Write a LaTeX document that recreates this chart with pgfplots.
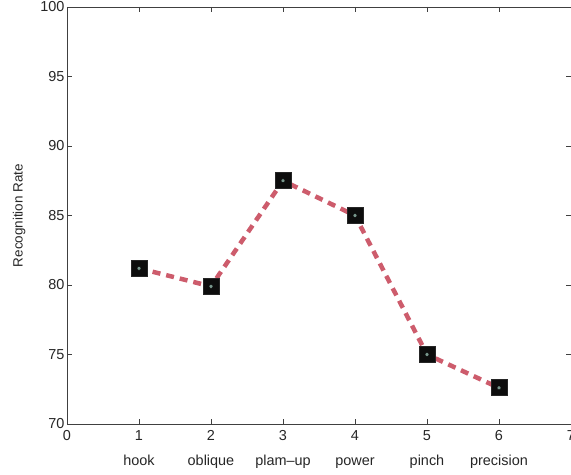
\documentclass[border=0pt]{standalone}
\usepackage{pgfplots}
\pgfplotsset{compat=1.18}
\usepackage{fontspec}
\setmainfont{Liberation Sans}
\definecolor{linered}{RGB}{205,92,108}
\definecolor{dotc}{RGB}{120,150,140}
\begin{document}
\begin{tikzpicture}[x=1bp,y=1bp]
\begin{axis}[
  at={(0,0)}, anchor=south west,
  scale only axis, width=504bp, height=417bp,
  xmin=0, xmax=7, ymin=70, ymax=100,
  xtick={0,1,2,3,4,5,6,7}, ytick={70,75,80,85,90,95,100},
  xticklabels={0,{1\\hook},{2\\oblique},{3\\plam--up},{4\\power},{5\\pinch},{6\\precision},7},
  xticklabel style={align=center, font=\fontsize{14.5}{25}\selectfont, text=black!85, yshift=-3bp},
  yticklabel style={font=\fontsize{14.5}{16}\selectfont, text=black!85, xshift=1bp},
  ylabel={Recognition Rate},
  ylabel style={font=\fontsize{13.5}{15}\selectfont, text=black!85,
    at={(axis description cs:-0.095,0.5)}, anchor=center, rotate=0},
  tick align=inside, major tick length=5bp,
  axis line style={black!75, line width=0.7bp},
  tick style={black!75, line width=0.7bp},
  /pgf/number format/assume math mode=true,
  clip=false,
]
\addplot[linered, line width=4.5bp, dash pattern=on 8bp off 6bp,
  mark=square*, mark size=8bp, mark options={solid, fill=black!95, draw=black!85, line width=0.8bp}]
  coordinates {(1,81.2) (2,79.9) (3,87.5) (4,85.0) (5,75.0) (6,72.6)};
\addplot[only marks, mark=*, mark size=2bp, mark options={fill=dotc, draw=none}]
  coordinates {(1,81.2) (2,79.9) (3,87.5) (4,85.0) (5,75.0) (6,72.6)};
\end{axis}
\pgfresetboundingbox
\useasboundingbox (-67,-51) rectangle (504,424);
\end{tikzpicture}
\end{document}
